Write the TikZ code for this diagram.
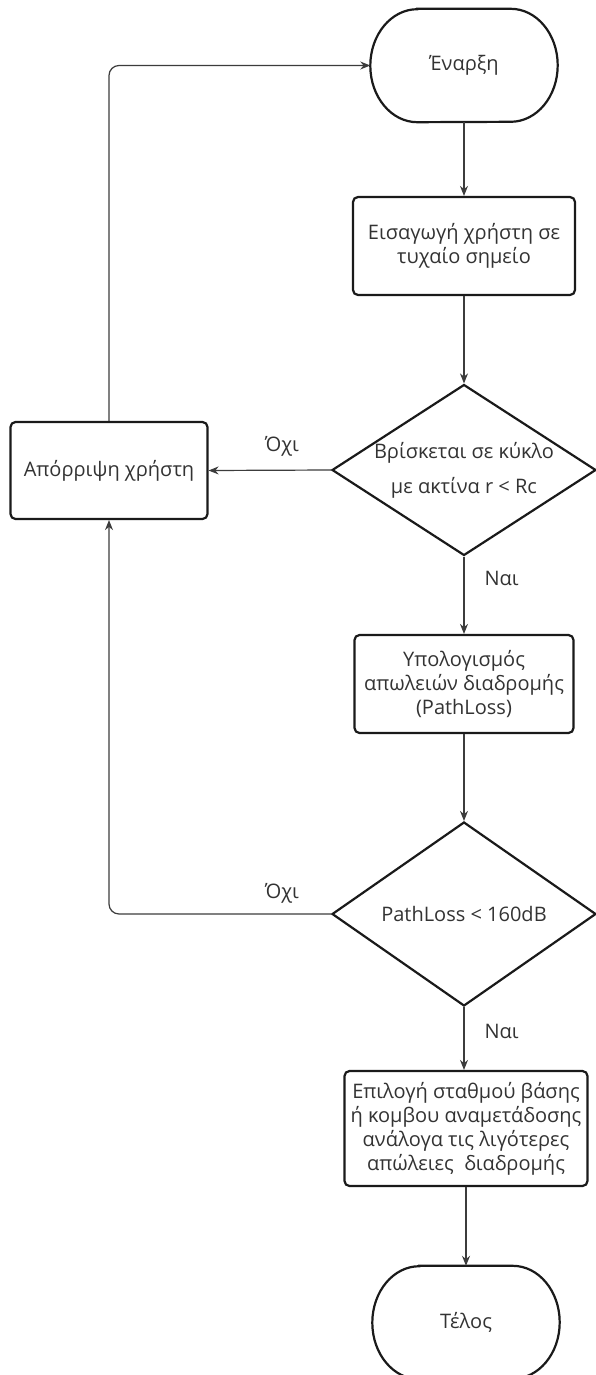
\documentclass[tikz,border=0pt]{standalone}
\usepackage{fontspec}
\setmainfont{Open Sans}
\usetikzlibrary{arrows.meta,shapes.geometric,calc}

\definecolor{ink}{HTML}{1A1A1A}
\definecolor{wire}{HTML}{3C3C3C}
\definecolor{txt}{HTML}{333333}

\tikzset{
  every node/.style={font=\fontsize{20}{24}\selectfont, text=txt, align=center},
  outline/.style={draw=ink, line width=2.2pt},
  procbox/.style={outline, rectangle, rounded corners=5pt, inner sep=0pt},
  decision/.style={outline, diamond, inner sep=0pt,
    minimum width=264pt, minimum height=171pt},
  terminal/.style={rectangle, inner sep=0pt, minimum width=187pt, minimum height=113pt},
  conn/.style={draw=wire, line width=1.2pt, -{Stealth[length=10pt,width=8pt]}},
  answer/.style={inner sep=0pt},
}

% stadium outline with elliptical ends around a terminal node
\newcommand{\stadium}[1]{%
  \draw[outline] ($(#1.north west)+(47pt,0)$) -- ($(#1.north east)+(-47pt,0)$)
    arc[start angle=90, end angle=-90, x radius=47pt, y radius=56.5pt]
    -- ($(#1.south west)+(47pt,0)$)
    arc[start angle=270, end angle=90, x radius=47pt, y radius=56.5pt]
    -- cycle;}

\begin{document}
\begin{tikzpicture}[x=1pt, y=-1pt]
  \clip (0,0) rectangle (596,1375);
  \fill[white] (0,0) rectangle (596,1375);

  % main column
  \node[terminal] (start) at (464,65.5) {Έναρξη};
  \stadium{start}

  \node[procbox, minimum width=222pt, minimum height=98pt] (insert) at (464,246)
    {Εισαγωγή χρήστη σε\\τυχαίο σημείο};

  \node[decision, label={[align=center]center:{Βρίσκεται σε κύκλο\\[11pt]με ακτίνα r < Rc}}]
    (incell) at (464,470) {};

  \node[procbox, minimum width=219pt, minimum height=98pt] (loss) at (464,684)
    {Υπολογισμός\\απωλειών διαδρομής\\(PathLoss)};

  \node[decision, minimum height=184pt, label={center:PathLoss < 160dB}]
    (limit) at (464,914) {};

  \node[procbox, minimum width=243pt, minimum height=115pt] (select) at (466,1128.5)
    {Επιλογή σταθμού βάσης\\ή κομβου αναμετάδοσης\\ανάλογα τις λιγότερες\\απώλειες~ διαδρομής};

  \node[terminal] (stop) at (466,1322.5) {Τέλος};
  \stadium{stop}

  % rejection box on the left
  \node[procbox, minimum width=197pt, minimum height=97pt] (reject) at (109,470.5)
    {Απόρριψη χρήστη};

  % connectors
  \draw[conn] (start.south) -- (start.south |- insert.north);
  \draw[conn] (insert.south) -- (incell.north);
  \draw[conn] (incell.south) -- (incell.south |- loss.north)
    node[answer, pos=0.28, right=20pt] (yes1) {Ναι};
  \draw[conn] (loss.south) -- (limit.north);
  \draw[conn] (limit.south) -- (limit.south |- select.north)
    node[answer, pos=0.38, right=20pt] (yes2) {Ναι};
  \draw[conn] (select.south -| stop.north) -- (stop.north);

  \draw[conn] (incell.west) -- (reject.east);
  \node[answer] (no1) at (282,446) {Όχι};

  \draw[conn, rounded corners=10pt] (reject.north) |- (start.west);
  \draw[conn, rounded corners=10pt] (limit.west) -| (reject.south);
  \node[answer] (no2) at (282,893) {Όχι};
\end{tikzpicture}
\end{document}
